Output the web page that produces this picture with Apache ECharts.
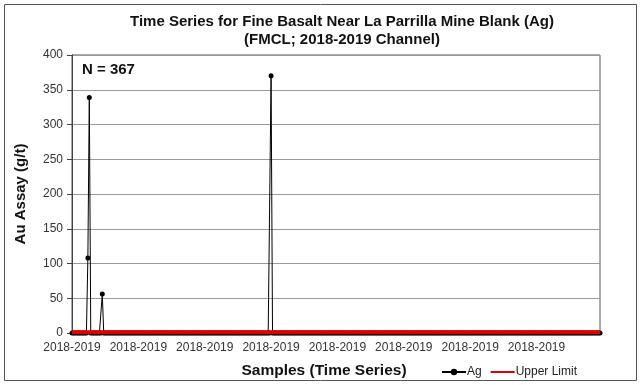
<!DOCTYPE html>
<html>
<head>
<meta charset="utf-8">
<script src="https://cdn.jsdelivr.net/npm/echarts@6/dist/echarts.min.js"></script>
<style>
  html, body { margin: 0; padding: 0; background: #ffffff; }
  #chart { width: 641px; height: 385px; }
</style>
</head>
<body>
<div id="chart"></div>
<script>
// Sampling period shown under each sample (367 blank inserts)
const sampleCount = 367;
const periodLabels = Array.from({ length: sampleCount }, () => '2018-2019');

// Ag assay of each blank in sample order (g/t)
const agValues = [
  0,0,0,0,0,0,0,0,0,0,0,108,339,0,0,0,0,0,0,0,
  0,56,0,0,0,0,0,0,0,0,0,0,0,0,0,0,0,0,0,0,
  0,0,0,0,0,0,0,0,0,0,0,0,0,0,0,0,0,0,0,0,
  0,0,0,0,0,0,0,0,0,0,0,0,0,0,0,0,0,0,0,0,
  0,0,0,0,0,0,0,0,0,0,0,0,0,0,0,0,0,0,0,0,
  0,0,0,0,0,0,0,0,0,0,0,0,0,0,0,0,0,0,0,0,
  0,0,0,0,0,0,0,0,0,0,0,0,0,0,0,0,0,0,370,0,
  0,0,0,0,0,0,0,0,0,0,0,0,0,0,0,0,0,0,0,0,
  0,0,0,0,0,0,0,0,0,0,0,0,0,0,0,0,0,0,0,0,
  0,0,0,0,0,0,0,0,0,0,0,0,0,0,0,0,0,0,0,0,
  0,0,0,0,0,0,0,0,0,0,0,0,0,0,0,0,0,0,0,0,
  0,0,0,0,0,0,0,0,0,0,0,0,0,0,0,0,0,0,0,0,
  0,0,0,0,0,0,0,0,0,0,0,0,0,0,0,0,0,0,0,0,
  0,0,0,0,0,0,0,0,0,0,0,0,0,0,0,0,0,0,0,0,
  0,0,0,0,0,0,0,0,0,0,0,0,0,0,0,0,0,0,0,0,
  0,0,0,0,0,0,0,0,0,0,0,0,0,0,0,0,0,0,0,0,
  0,0,0,0,0,0,0,0,0,0,0,0,0,0,0,0,0,0,0,0,
  0,0,0,0,0,0,0,0,0,0,0,0,0,0,0,0,0,0,0,0,
  0,0,0,0,0,0,0
];

// Acceptance limit for blanks (g/t), constant over the series
const upperLimitValue = 1;
const upperLimit = agValues.map(() => upperLimitValue);

// Y axis range and step (g/t)
const yMin = 0;
const yMax = 400;
const yStep = 50;

const FONT = '"Liberation Sans", Arial, sans-serif';

const chart = echarts.init(document.getElementById('chart'), null, { renderer: 'canvas' });

chart.setOption({
  animation: false,
  backgroundColor: '#ffffff',
  textStyle: { fontFamily: FONT },
  title: {
    text: 'Time Series for Fine Basalt Near La Parrilla Mine Blank (Ag)\n(FMCL; 2018-2019 Channel)',
    left: 337,
    top: 8,
    textAlign: 'center',
    textStyle: { fontFamily: FONT, fontSize: 15, fontWeight: 'bold', color: '#111', lineHeight: 18 }
  },
  grid: {
    left: 72, right: 41, top: 55, bottom: 52,
    show: true, borderColor: '#555', borderWidth: 1, backgroundColor: '#ffffff'
  },
  legend: {
    left: 436,
    top: 361,
    itemWidth: 24,
    itemHeight: 8,
    itemGap: 8,
    textStyle: { fontFamily: FONT, fontSize: 12, color: '#222', padding: [0, 0, 0, -4] },
    data: [
      { name: 'Ag' },
      // plain red line in the key, no marker
      { name: 'Upper Limit', itemStyle: { opacity: 0 } }
    ]
  },
  xAxis: {
    type: 'category',
    data: periodLabels,
    boundaryGap: false,
    name: 'Samples (Time Series)',
    nameLocation: 'middle',
    nameGap: 30,
    nameTextStyle: { fontFamily: FONT, fontSize: 15.5, fontWeight: 'bold', color: '#111', padding: [0, 24, 0, 0] },
    axisLine: { show: true, lineStyle: { color: '#222', width: 1 } },
    axisTick: { show: false },
    axisLabel: { interval: 45, fontSize: 12, color: '#333', margin: 9, fontFamily: FONT },
    splitLine: { show: false }
  },
  yAxis: {
    type: 'value',
    min: yMin,
    max: yMax,
    interval: yStep,
    name: 'Au Assay (g/t)',
    nameLocation: 'middle',
    nameGap: 44,
    nameTextStyle: { fontFamily: FONT, fontSize: 15, fontWeight: 'bold', color: '#111' },
    axisLine: { show: true, lineStyle: { color: '#444', width: 1 } },
    axisTick: { show: true, length: 5, lineStyle: { color: '#444' } },
    axisLabel: { fontSize: 12, color: '#333', margin: 9, fontFamily: FONT },
    splitLine: { show: true, lineStyle: { color: '#9a9a9a', width: 1 } }
  },
  series: [
    {
      name: 'Ag',
      type: 'line',
      data: agValues,
      color: '#000000',
      lineStyle: { color: '#000000', width: 1 },
      itemStyle: { color: '#000000' },
      symbol: 'circle',
      symbolSize: 5,
      showSymbol: true,
      showAllSymbol: true,
      z: 2
    },
    {
      name: 'Upper Limit',
      type: 'line',
      data: upperLimit,
      color: '#e00000',
      lineStyle: { color: '#e00000', width: 4 },
      symbol: 'none',
      z: 3
    }
  ],
  graphic: [
    {
      type: 'rect',
      silent: true,
      shape: { x: 4.5, y: 4.5, width: 632, height: 376 },
      style: { fill: 'none', stroke: '#555', lineWidth: 1 },
      z: 10
    },
    {
      type: 'text',
      left: 82,
      top: 62,
      style: { text: 'N = 367', font: 'bold 15px "Liberation Sans", Arial, sans-serif', fill: '#111' },
      z: 10
    }
  ]
});
</script>
</body>
</html>
